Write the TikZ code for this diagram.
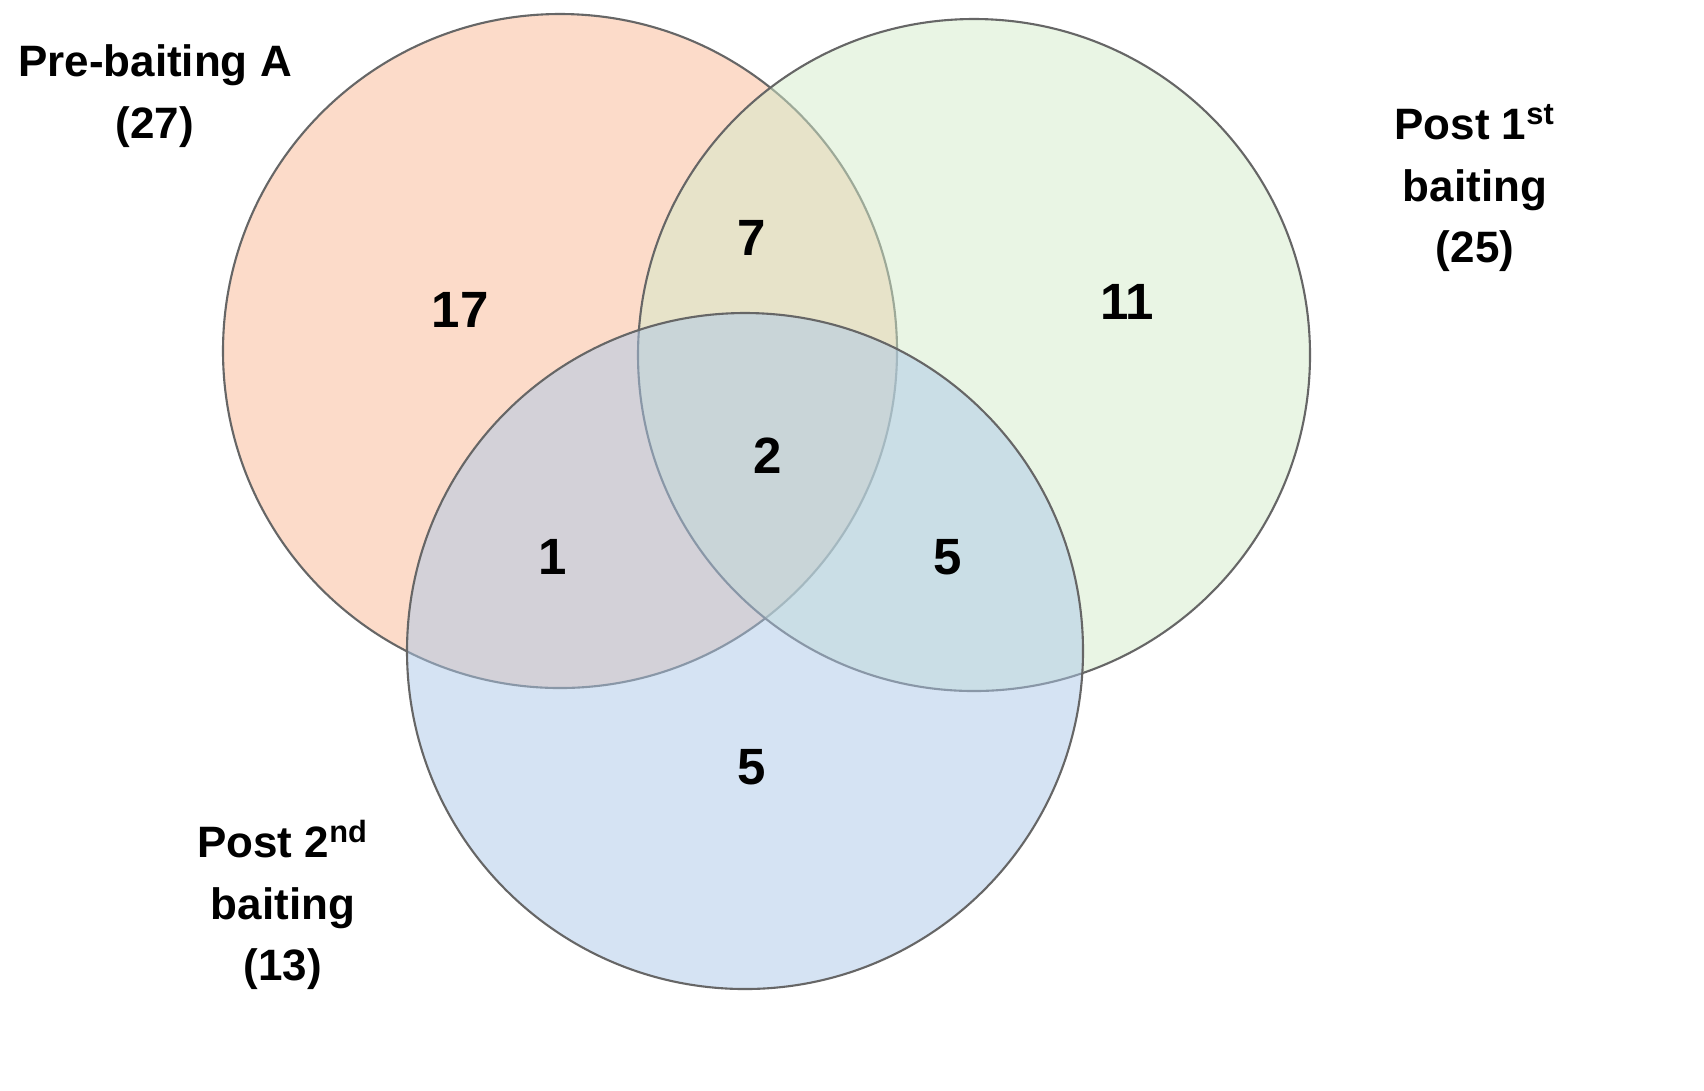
\documentclass[tikz,border=0pt]{standalone}
\usepackage{fontspec}
\setmainfont{Liberation Sans}
\begin{document}
\begin{tikzpicture}[x=0.01cm,y=-0.01cm,
  set/.style={draw=black!60, line width=0.6pt, fill opacity=0.5},
  num/.style={font=\fontsize{14.5}{17}\selectfont\bfseries},
  lab/.style={font=\fontsize{12.5}{17.5}\selectfont\bfseries, align=center}]
\useasboundingbox (0,0) rectangle (1704,1090);
\fill[white] (0,0) rectangle (1704,1090);
\draw[set, fill={rgb,255:red,250;green,184;blue,148}] (560,351) circle (337);
\draw[set, fill={rgb,255:red,212;green,236;blue,202}] (974,355) circle (336);
\draw[set, fill={rgb,255:red,172;green,200;blue,232}] (745,651) circle (338);
\node[num] (n17) at (460,310) {17};
\node[num] (n7) at (752,238) {7};
\node[num] (n11) at (1127,302) {11};
\node[num] (n2) at (768,456) {2};
\node[num] (n1) at (553,557) {1};
\node[num] (n5a) at (948,557) {5};
\node[num] (n5b) at (752,767) {5};
\node[lab] (la) at (155,96) {Pre-baiting A\\(27)};
\node[lab] (lb) at (1475,188) {Post 1\textsuperscript{st}\\baiting\\(25)};
\node[lab] (lc) at (283,905) {Post 2\textsuperscript{nd}\\baiting\\(13)};
\end{tikzpicture}
\end{document}
